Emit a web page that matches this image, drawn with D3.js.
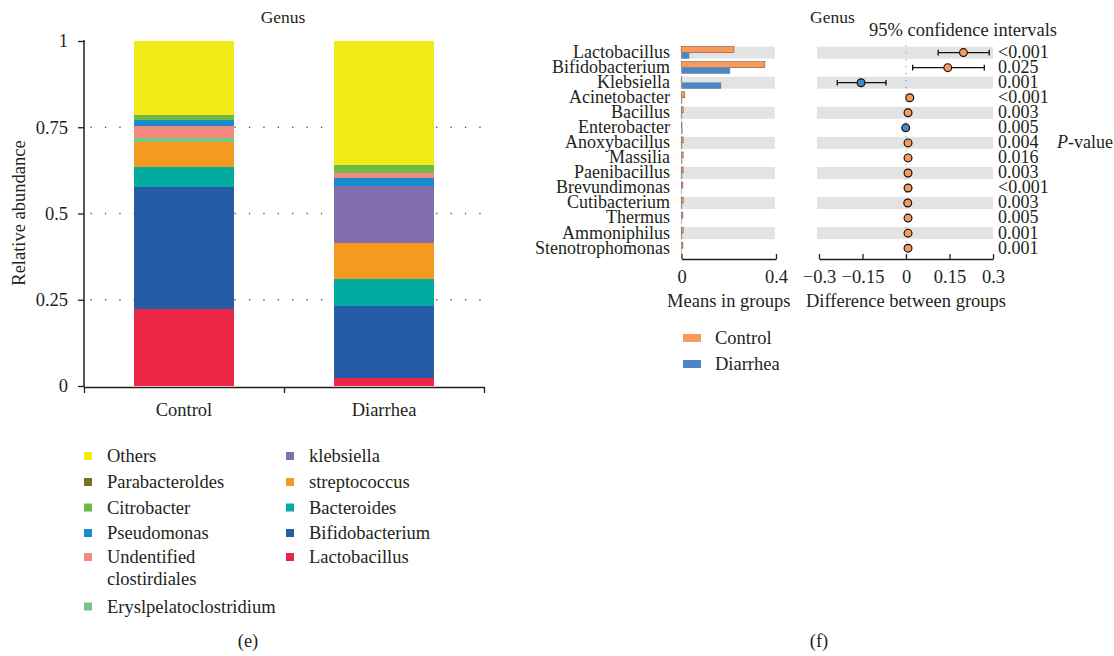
<!DOCTYPE html>
<html>
<head>
<meta charset="utf-8">
<script src="https://cdn.jsdelivr.net/npm/d3@7"></script>
<style>
  html, body { margin: 0; padding: 0; background: #fff; }
  svg { display: block; font-family: "Liberation Serif", "Times New Roman", serif; fill: #231f20; }
  text { fill: #231f20; }
</style>
</head>
<body>
<svg id="chart" width="1114" height="656"></svg>
<script>
// ---------- Panel (e): stacked relative abundance at genus level ----------
const groups = ["Control", "Diarrhea"];
const taxa = [
  "Lactobacillus", "Bifidobacterium", "Bacteroides", "streptococcus", "klebsiella",
  "Eryslpelatoclostridium", "Undentified clostirdiales", "Pseudomonas",
  "Citrobacter", "Parabacteroldes", "Others"
];
const taxaColors = [
  "#ec2745", "#255ca8", "#00ab9f", "#f5991f", "#836fb0",
  "#76c58a", "#f38a80", "#1a8ccb", "#6dbb45", "#7a7324", "#f2ea17"
];
const controlAbundance  = [0.2225, 0.354, 0.058, 0.0725, 0.0, 0.0116, 0.035, 0.0174, 0.0145, 0.0, 0.2145];
const diarrheaAbundance = [0.0232, 0.208, 0.078, 0.104, 0.166, 0.0, 0.0145, 0.0232, 0.0223, 0.0, 0.3608];
// bottom-to-top drawing order of each bar
const controlOrder  = ["Lactobacillus", "Bifidobacterium", "Bacteroides", "streptococcus", "klebsiella",
  "Eryslpelatoclostridium", "Undentified clostirdiales", "Pseudomonas", "Citrobacter", "Parabacteroldes", "Others"];
const diarrheaOrder = ["Lactobacillus", "Bifidobacterium", "Bacteroides", "streptococcus", "klebsiella",
  "Pseudomonas", "Undentified clostirdiales", "Eryslpelatoclostridium", "Citrobacter", "Parabacteroldes", "Others"];
const abundanceTicks = [0, 0.25, 0.5, 0.75, 1];
const legendCol1 = ["Others", "Parabacteroldes", "Citrobacter", "Pseudomonas", "Undentified clostirdiales", "Eryslpelatoclostridium"];
const legendCol2 = ["klebsiella", "streptococcus", "Bacteroides", "Bifidobacterium", "Lactobacillus"];

// ---------- Panel (f): extended error bar plot ----------
const genera = ["Lactobacillus", "Bifidobacterium", "Klebsiella", "Acinetobacter", "Bacillus",
  "Enterobacter", "Anoxybacillus", "Massilia", "Paenibacillus", "Brevundimonas",
  "Cutibacterium", "Thermus", "Ammoniphilus", "Stenotrophomonas"];
const meanControl  = [0.222, 0.353, 0.001, 0.014, 0.007, 0.002, 0.007, 0.007, 0.007, 0.006, 0.007, 0.006, 0.007, 0.006];
const meanDiarrhea = [0.032, 0.205, 0.167, 0.002, 0.002, 0.003, 0.002, 0.002, 0.002, 0.001, 0.002, 0.001, 0.002, 0.001];
const diffEstimate = [0.198, 0.144, -0.155, 0.013, 0.007, -0.001, 0.007, 0.007, 0.007, 0.007, 0.006, 0.007, 0.007, 0.007];
const diffLower    = [0.111, 0.023, -0.237, 0.006, 0.003, -0.004, 0.003, 0.002, 0.003, 0.004, 0.002, 0.003, 0.003, 0.004];
const diffUpper    = [0.287, 0.270, -0.069, 0.020, 0.011, 0.002, 0.011, 0.012, 0.011, 0.010, 0.010, 0.011, 0.011, 0.010];
const pValues = ["<0.001", "0.025", "0.001", "<0.001", "0.003", "0.005", "0.004", "0.016",
  "0.003", "<0.001", "0.003", "0.005", "0.001", "0.001"];
const meanTicks = [0, 0.4];
const diffTicks = [-0.3, -0.15, 0, 0.15, 0.3];
const groupColors = ["#f89a5b", "#4b86c7"];

const svg = d3.select("#chart");
const FS = 18.5;
const FS_ROW = 18;

// ================= Panel (e) =================
const colorOf = d3.scaleOrdinal().domain(taxa).range(taxaColors);
const abundanceByGroup = {
  Control: new Map(taxa.map((t, i) => [t, controlAbundance[i]])),
  Diarrhea: new Map(taxa.map((t, i) => [t, diarrheaAbundance[i]]))
};
const orderByGroup = { Control: controlOrder, Diarrhea: diarrheaOrder };

const xBand = d3.scaleBand().domain(groups).range([84, 484]).paddingInner(0.5).paddingOuter(0.25);
const yAb = d3.scaleLinear().domain([0, 1]).range([386, 41]);

const pe = svg.append("g");

// dotted reference lines
pe.append("g").selectAll("line")
  .data(abundanceTicks.filter(d => d > 0 && d < 1))
  .join("line")
  .attr("x1", 90.5).attr("x2", 490)
  .attr("y1", d => yAb(d)).attr("y2", d => yAb(d))
  .attr("stroke", "#555").attr("stroke-width", 1.3)
  .attr("stroke-dasharray", "1.3,13.1");

// stacked segments
const segments = [];
groups.forEach(g => {
  let base = 0;
  orderByGroup[g].forEach(t => {
    const v = abundanceByGroup[g].get(t);
    segments.push({ group: g, taxon: t, y0: base, y1: base + v });
    base += v;
  });
});
pe.append("g").selectAll("rect")
  .data(segments.filter(s => s.y1 > s.y0))
  .join("rect")
  .attr("x", d => xBand(d.group))
  .attr("width", xBand.bandwidth())
  .attr("y", d => yAb(d.y1))
  .attr("height", d => yAb(d.y0) - yAb(d.y1))
  .attr("fill", d => colorOf(d.taxon))
  .attr("shape-rendering", "crispEdges");

// y axis
const yAxisG = pe.append("g").attr("transform", "translate(84,0)")
  .call(d3.axisLeft(yAb).tickValues(abundanceTicks).tickFormat(d => String(d)).tickSize(6).tickSizeOuter(0).tickPadding(10));
yAxisG.select(".domain").attr("stroke", "#231f20").attr("stroke-width", 1.5)
  .attr("d", `M0,${yAb(1) - 1}V${yAb(0) + 1}`);
yAxisG.selectAll(".tick line").attr("stroke", "#231f20").attr("stroke-width", 1.3);
yAxisG.selectAll("text").attr("font-size", FS).attr("font-family", "Liberation Serif").attr("fill", "#231f20");

// x axis with boundary ticks
const xEdge = d3.scaleLinear().domain([0, groups.length]).range([84, 484]);
const xAxisG = pe.append("g").attr("transform", "translate(0,387)")
  .call(d3.axisBottom(xEdge).tickValues(d3.range(groups.length + 1)).tickFormat("").tickSize(6).tickSizeOuter(0));
xAxisG.select(".domain").attr("stroke", "#231f20").attr("stroke-width", 1.5);
xAxisG.selectAll(".tick line").attr("stroke", "#231f20").attr("stroke-width", 1.3);

pe.append("g").selectAll("text")
  .data(groups)
  .join("text")
  .attr("x", d => xBand(d) + xBand.bandwidth() / 2)
  .attr("y", 416)
  .attr("text-anchor", "middle")
  .attr("font-size", FS)
  .text(d => d);

pe.append("text").attr("x", 283).attr("y", 23).attr("text-anchor", "middle")
  .attr("font-size", 17.5).text("Genus");

pe.append("text")
  .attr("transform", "translate(25,213) rotate(-90)")
  .attr("text-anchor", "middle").attr("font-size", FS)
  .text("Relative abundance");

// legend
function legendColumn(items, x, rows) {
  const g = pe.append("g");
  items.forEach((t, i) => {
    const cy = rows[i];
    g.append("rect").attr("x", x).attr("y", cy - 4).attr("width", 8).attr("height", 8)
      .attr("fill", colorOf(t));
    const words = t === "Undentified clostirdiales" ? ["Undentified", "clostirdiales"] : [t];
    const txt = g.append("text").attr("x", x + 23).attr("y", cy).attr("font-size", FS);
    words.forEach((w, k) => {
      txt.append("tspan").attr("x", x + 23).attr("dy", k === 0 ? "0.33em" : "1.2em").text(w);
    });
  });
}
legendColumn(legendCol1, 84, [456, 482, 507.5, 533, 557, 606.5]);
legendColumn(legendCol2, 286, [456, 482, 507.5, 533, 557]);

pe.append("text").attr("x", 248).attr("y", 647).attr("text-anchor", "middle")
  .attr("font-size", FS).text("(e)");

// ================= Panel (f) =================
const pf = svg.append("g");
const yRow = d3.scaleBand().domain(genera).range([45.1, 255.7]);
const rowC = g => yRow(g) + yRow.bandwidth() / 2;
const xMean = d3.scaleLinear().domain([0, 0.4]).range([681.5, 776]);
const xDiff = d3.scaleLinear().domain([-0.3, 0.3]).range([819, 993]);
const bandH = 12;

const rows = genera.map((g, i) => ({
  genus: g, i, mc: meanControl[i], md: meanDiarrhea[i],
  est: diffEstimate[i], lo: diffLower[i], hi: diffUpper[i], p: pValues[i]
}));

// alternating shaded rows
const shaded = rows.filter(r => r.i % 2 === 0);
pf.append("g").selectAll("rect")
  .data(shaded).join("rect")
  .attr("x", xMean(0) - 1).attr("width", xMean(0.395) - xMean(0) + 1)
  .attr("y", d => rowC(d.genus) - bandH / 2).attr("height", bandH)
  .attr("fill", "#e2e3e2");
pf.append("g").selectAll("rect")
  .data(shaded).join("rect")
  .attr("x", xDiff(-0.3) - 2).attr("width", xDiff(0.3) - xDiff(-0.3) + 2)
  .attr("y", d => rowC(d.genus) - bandH / 2).attr("height", bandH)
  .attr("fill", "#e2e3e2");

// genus labels
pf.append("g").selectAll("text")
  .data(rows).join("text")
  .attr("x", 670).attr("y", d => rowC(d.genus)).attr("dy", "0.3em")
  .attr("text-anchor", "end").attr("font-size", FS_ROW)
  .text(d => d.genus);

// mean bars
const meanG = pf.append("g");
meanG.selectAll("rect.c")
  .data(rows).join("rect").attr("class", "c")
  .attr("x", xMean(0)).attr("width", d => xMean(d.mc) - xMean(0))
  .attr("y", d => rowC(d.genus) - bandH / 2).attr("height", bandH / 2)
  .attr("fill", groupColors[0]).attr("stroke", "#6b3b24").attr("stroke-width", 0.5);
meanG.selectAll("rect.d")
  .data(rows).join("rect").attr("class", "d")
  .attr("x", xMean(0)).attr("width", d => xMean(d.md) - xMean(0))
  .attr("y", d => rowC(d.genus)).attr("height", bandH / 2)
  .attr("fill", groupColors[1]).attr("stroke", "#8a8a8a").attr("stroke-width", 0.5);

// zero reference
pf.append("line")
  .attr("x1", xDiff(0)).attr("x2", xDiff(0))
  .attr("y1", yRow.range()[0]).attr("y2", yRow.range()[1])
  .attr("stroke", "#777").attr("stroke-width", 0.9).attr("stroke-dasharray", "1,6");

// confidence intervals
const ciG = pf.append("g").attr("stroke", "#111").attr("stroke-width", 1.3);
ciG.selectAll("line.ci").data(rows).join("line").attr("class", "ci")
  .attr("x1", d => xDiff(d.lo)).attr("x2", d => xDiff(d.hi))
  .attr("y1", d => rowC(d.genus)).attr("y2", d => rowC(d.genus));
ciG.selectAll("line.lo").data(rows).join("line").attr("class", "lo")
  .attr("x1", d => xDiff(d.lo)).attr("x2", d => xDiff(d.lo))
  .attr("y1", d => rowC(d.genus) - 2.8).attr("y2", d => rowC(d.genus) + 2.8);
ciG.selectAll("line.hi").data(rows).join("line").attr("class", "hi")
  .attr("x1", d => xDiff(d.hi)).attr("x2", d => xDiff(d.hi))
  .attr("y1", d => rowC(d.genus) - 2.8).attr("y2", d => rowC(d.genus) + 2.8);

pf.append("g").selectAll("circle")
  .data(rows).join("circle")
  .attr("cx", d => xDiff(d.est)).attr("cy", d => rowC(d.genus)).attr("r", 3.9)
  .attr("fill", d => d.est >= 0 ? groupColors[0] : groupColors[1])
  .attr("stroke", "#111").attr("stroke-width", 1.2);

// p-values
pf.append("g").selectAll("text")
  .data(rows).join("text")
  .attr("x", 998).attr("y", d => rowC(d.genus)).attr("dy", "0.3em")
  .attr("font-size", FS_ROW).text(d => d.p);

const pv = pf.append("text").attr("x", 1057).attr("y", rowC(genera[6])).attr("dy", "0.3em").attr("font-size", FS_ROW);
pv.append("tspan").attr("font-style", "italic").text("P");
pv.append("tspan").text("-value");

// axes
const axisY = 259;
const fmt = d => d < 0 ? "\u2212" + Math.abs(d) : String(d);
const mAx = pf.append("g").attr("transform", `translate(0,${axisY})`)
  .call(d3.axisBottom(xMean).tickValues(meanTicks).tickFormat(fmt).tickSize(-5).tickSizeOuter(0).tickPadding(11));
const dAx = pf.append("g").attr("transform", `translate(0,${axisY})`)
  .call(d3.axisBottom(xDiff).tickValues(diffTicks).tickFormat(fmt).tickSize(-5).tickSizeOuter(0).tickPadding(11));
[mAx, dAx].forEach(a => {
  a.select(".domain").attr("stroke", "#231f20").attr("stroke-width", 1.4);
  a.selectAll(".tick line").attr("stroke", "#231f20").attr("stroke-width", 1.3);
  a.selectAll("text").attr("font-size", FS).attr("font-family", "Liberation Serif").attr("fill", "#231f20");
});

pf.append("text").attr("x", (xMean(0) + xMean(0.4)) / 2).attr("y", 307)
  .attr("text-anchor", "middle").attr("font-size", FS).text("Means in groups");
pf.append("text").attr("x", xDiff(0)).attr("y", 307)
  .attr("text-anchor", "middle").attr("font-size", FS).text("Difference between groups");

pf.append("text").attr("x", 810).attr("y", 23).attr("font-size", 17.5).text("Genus");
pf.append("text").attr("x", 963).attr("y", 36).attr("text-anchor", "middle")
  .attr("font-size", FS).text("95% confidence intervals");

// group legend
groups.forEach((g, i) => {
  const cy = 338 + i * 26;
  pf.append("rect").attr("x", 683).attr("y", cy - 4).attr("width", 18).attr("height", 8)
    .attr("fill", groupColors[i]);
  pf.append("text").attr("x", 715).attr("y", cy).attr("dy", "0.33em").attr("font-size", FS).text(g);
});

pf.append("text").attr("x", 819).attr("y", 647).attr("text-anchor", "middle")
  .attr("font-size", FS).text("(f)");
</script>
</body>
</html>
